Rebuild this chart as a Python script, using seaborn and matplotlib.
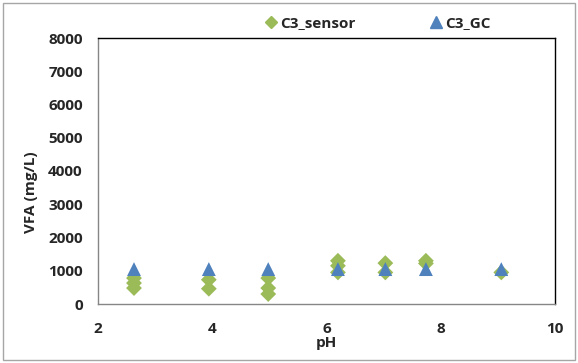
import numpy as np
import pandas as pd
import matplotlib
matplotlib.use("Agg")
import matplotlib.pyplot as plt
import seaborn as sns
from matplotlib.patches import Rectangle
from matplotlib.lines import Line2D

# Propionic acid (C3) measurements versus pH
sensor_ph = [2.63, 2.63, 2.63, 3.94, 3.94, 4.98, 4.98, 4.98,
             6.2, 6.2, 6.2, 7.03, 7.03, 7.74, 7.74, 9.06]
sensor_vfa = [780, 630, 480, 730, 460, 780, 480, 300,
              1300, 1150, 950, 1230, 950, 1300, 1220, 950]

gc_ph = [2.63, 3.94, 4.98, 6.2, 7.03, 7.74, 9.06]
gc_vfa = [1050, 1050, 1050, 1050, 1050, 1050, 1050]

x_ticks = [2, 4, 6, 8, 10]
y_ticks = [0, 1000, 2000, 3000, 4000, 5000, 6000, 7000, 8000]

sensor_df = pd.DataFrame({"pH": sensor_ph, "VFA": sensor_vfa})
gc_df = pd.DataFrame({"pH": gc_ph, "VFA": gc_vfa})

sns.set_style("white")
plt.rcParams["font.family"] = ["Open Sans", "DejaVu Sans"]

FS = 11
W, H = 578, 363
fig = plt.figure(figsize=(W / 100, H / 100), dpi=100)
ax = fig.add_axes([98 / W, 1 - 304 / H, (555 - 98) / W, (304 - 38) / H])

green = "#9BBB59"
blue = "#4F81BD"

sns.scatterplot(data=sensor_df, x="pH", y="VFA", marker="D", s=65,
                color=green, edgecolor="none", ax=ax, zorder=3)
sns.scatterplot(data=gc_df, x="pH", y="VFA", marker="^", s=100,
                color=blue, edgecolor="none", ax=ax, zorder=4)

ax.set_xlim(2, 10)
ax.set_ylim(0, 8000)
ax.set_xticks(x_ticks)
ax.set_yticks(y_ticks)
ax.tick_params(axis="y", length=0, labelsize=FS, pad=11)
ax.tick_params(axis="x", length=0, labelsize=FS, pad=13)
for lab in ax.get_xticklabels() + ax.get_yticklabels():
    lab.set_fontweight("bold")

ax.set_xlabel("pH", fontsize=FS, fontweight="bold", labelpad=0)
ax.set_ylabel("VFA (mg/L)", fontsize=FS, fontweight="bold")
ax.yaxis.set_label_coords(-0.132, 0.42)

for side in ["top", "right"]:
    ax.spines[side].set_color("black")
    ax.spines[side].set_linewidth(1.0)
for side in ["left", "bottom"]:
    ax.spines[side].set_color("#868686")
    ax.spines[side].set_linewidth(1.0)

handles = [
    Line2D([], [], marker="D", linestyle="none", color=green, markersize=6.5),
    Line2D([], [], marker="^", linestyle="none", color=blue, markersize=8),
]
fig.legend(handles, ["C3_sensor", "C3_GC"], ncol=2, frameon=False,
           loc="center", bbox_to_anchor=(377 / W, 1 - 23 / H),
           prop={"size": FS, "weight": "bold"},
           handletextpad=0.05, columnspacing=4.8, handlelength=1.0)

# chart area border
fig.patches.append(Rectangle((3 / W, 3 / H), (W - 6) / W, (H - 6) / H,
                             transform=fig.transFigure, fill=False,
                             edgecolor="#A6A6A6", linewidth=1.0))

fig.savefig("out.png", dpi=100)
